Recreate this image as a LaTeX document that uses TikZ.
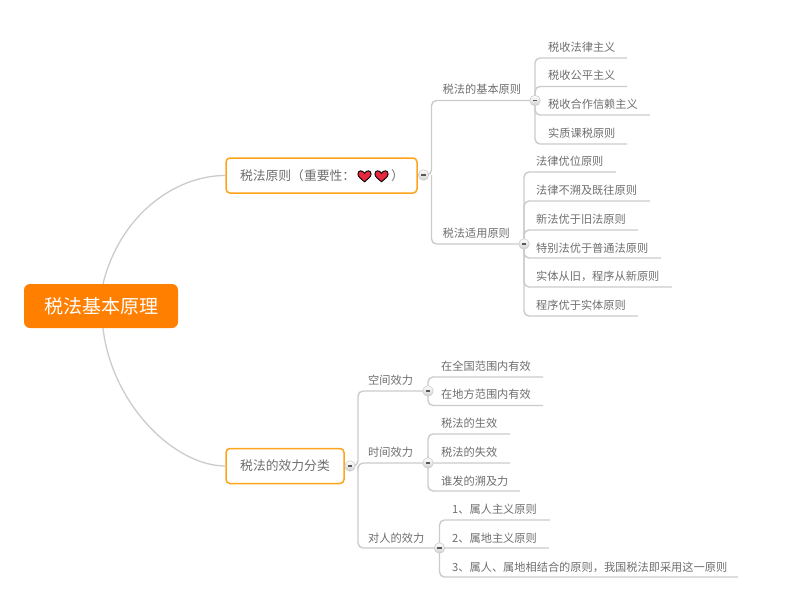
\documentclass[tikz,border=0pt]{standalone}
\usepackage{fontspec}
\usetikzlibrary{calc}
\setmainfont{Noto Sans CJK SC}
\definecolor{txt}{HTML}{6E6E6E}
\definecolor{ln}{HTML}{CBCBCB}
\definecolor{rootc}{HTML}{FF7F00}
\definecolor{topb}{HTML}{FFA31A}
\definecolor{heartc}{HTML}{E8283C}
\tikzset{
  x=1pt,y=-1pt,
  conn/.style={draw=ln,line width=1.4pt,rounded corners=5pt},
  curve/.style={draw=ln,line width=1.3pt},
  rootbox/.style={fill=rootc,rounded corners=6pt,text=white,font=\fontsize{19}{19}\selectfont,minimum width=154pt,minimum height=44pt,inner sep=0pt},
  topicbox/.style={draw=topb,fill=white,line width=1.5pt,rounded corners=4pt,text=txt,font=\fontsize{12.8}{13}\selectfont,minimum height=35pt,inner sep=0pt},
  lbl/.style={text=txt,font=\fontsize{11.2}{12}\selectfont,inner sep=0pt,anchor=west},
  hub/.style={circle,draw=ln,line width=.6pt,top color=white,bottom color=black!18,minimum size=10.5pt,inner sep=0pt},
  heart/.style={fill=heartc,draw=black,line width=.9pt},
}
\newcommand{\heartat}[2]{%
  \filldraw[heart] (#1,#2+5.8) .. controls (#1-3,#2+3) and (#1-6.6,#2+1) .. (#1-6.6,#2-2)
    .. controls (#1-6.6,#2-6) and (#1-1.8,#2-6.2) .. (#1,#2-2.6)
    .. controls (#1+1.8,#2-6.2) and (#1+6.6,#2-6) .. (#1+6.6,#2-2)
    .. controls (#1+6.6,#2+1) and (#1+3,#2+3) .. cycle;}
% \leaf{hub}{name}{text x}{text y}{line y}{line end x}{text}
\newcommand{\leaf}[7]{%
  \node[lbl] (#2) at (#3,#4) {#7};
  \coordinate (#2e) at (#6,#5);
  \draw[conn] (#1) |- (#2e);}
\begin{document}
\begin{tikzpicture}
\useasboundingbox (0,0) rectangle (800,613);
\node[rootbox] (root) at (101,306) {税法基本原理};
\node[topicbox,minimum width=191pt] (t1) at (321.5,175.5) {\makebox[191pt][l]{\hspace{14pt}税法原则（重要性：\hspace{36pt}）}};
\node[topicbox,minimum width=118pt] (t2) at (285,466) {税法的效力分类};
\draw[curve] (root.north) ++(2,0) .. controls (120,215) and (175,175.5) .. (t1.west);
\draw[curve] (root.south) ++(2,0) .. controls (112,405) and (175,466) .. (t2.west);
\heartat{364.5}{176}
\heartat{381.5}{176}
\coordinate (h1) at (423.5,175);
\coordinate (h11) at (535,100.5);
\coordinate (h12) at (524,244);
\coordinate (h2) at (350,466);
\coordinate (h21) at (428,391);
\coordinate (h22) at (428,463);
\coordinate (h23) at (439.5,548);
\node[lbl] (a1) at (442.5,89) {税法的基本原则};
\node[lbl] (a2) at (442.5,233) {税法适用原则};
\node[lbl] (b1) at (368,380) {空间效力};
\node[lbl] (b2) at (368,452) {时间效力};
\node[lbl] (b3) at (368,538) {对人的效力};
\draw[conn] (t1.east) -- (h1) -- ++(8,0) |- (h11);
\draw[conn] (h1) ++(8,0) |- (h12);
\draw[conn] (t2.east) -- (h2) -- ++(8,0) |- (h21);
\draw[conn] (h2) ++(8,0) -- ++(0,-3) -- (h22);
\draw[conn] (h2) ++(8,0) |- (h23);
\leaf{h11}{c1}{548}{47}{58}{627}{税收法律主义}
\leaf{h11}{c2}{548}{75}{86.5}{627}{税收公平主义}
\leaf{h11}{c3}{548}{104}{115}{650}{税收合作信赖主义}
\leaf{h11}{c4}{548}{133}{144}{627}{实质课税原则}
\leaf{h12}{d1}{536}{161}{172}{616}{法律优位原则}
\leaf{h12}{d2}{536}{190}{201}{650}{法律不溯及既往原则}
\leaf{h12}{d3}{536}{219}{230}{638}{新法优于旧法原则}
\leaf{h12}{d4}{536}{248}{258}{661}{特别法优于普通法原则}
\leaf{h12}{d5}{536}{276}{287}{672}{实体从旧，程序从新原则}
\leaf{h12}{d6}{536}{305}{316}{638}{程序优于实体原则}
\leaf{h21}{e1}{441}{366}{377}{543}{在全国范围内有效}
\leaf{h21}{e2}{441}{394}{405.5}{543}{在地方范围内有效}
\leaf{h22}{f1}{441}{423}{434}{510}{税法的生效}
\leaf{h22}{f2}{441}{452}{463}{510}{税法的失效}
\leaf{h22}{f3}{441}{481}{491}{520}{谁发的溯及力}
\leaf{h23}{g1}{452}{509}{520}{550}{1、属人主义原则}
\leaf{h23}{g2}{452}{538}{548}{549}{2、属地主义原则}
\leaf{h23}{g3}{452}{567}{577}{738}{3、属人、属地相结合的原则，我国税法即采用这一原则}
\foreach \h in {h1,h11,h12,h2,h21,h22,h23}{
  \node[hub] (\h n) at (\h) {};
  \fill[black!65] ($(\h)+(-2.2,-.6)$) rectangle ($(\h)+(2.2,.6)$);
}
\end{tikzpicture}
\end{document}
